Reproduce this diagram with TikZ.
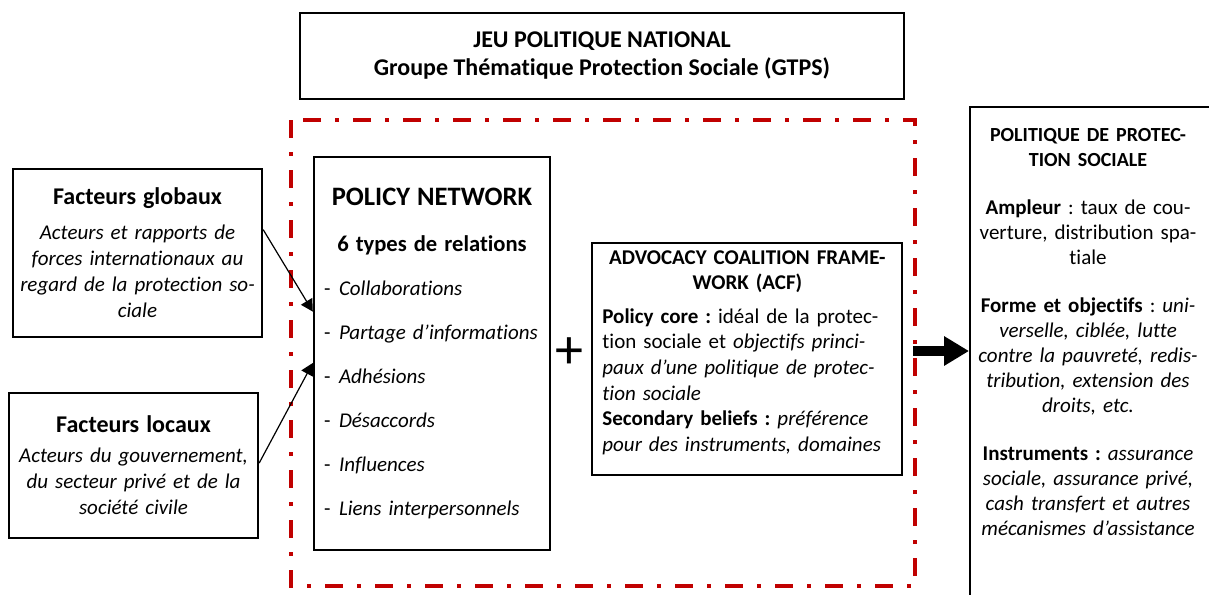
\documentclass[tikz,border=0pt]{standalone}
\usepackage{fontspec}
\setmainfont[Ligatures=NoCommon]{Carlito}
\usetikzlibrary{calc,arrows.meta}
\definecolor{framered}{RGB}{192,0,0}
\frenchspacing

\begin{document}
\begin{tikzpicture}[x = 0.5pt, y = -0.5pt,
	box/.style = {draw, line width=1.2pt, inner sep=0pt},
	txt/.style = {font=\fontsize{10.5}{12.5}\selectfont, inner sep=0pt},
	thin arrow/.style = {line width=0.6pt, -{Triangle[length=6pt, width=6.5pt]}},
	big arrow/.style = {line width=5pt, -{Triangle[length=12.5pt, width=14pt]}},
	frame line/.style = {framered, line width=2pt, dash pattern=on 9pt off 7pt on 2pt off 7pt}]
	\useasboundingbox (0,0) rectangle (1209,594);
	\clip (0,0) rectangle (1209,594);

	% jeu national
	\node[box, txt, font=\fontsize{12}{14}\selectfont\bfseries, minimum width=302pt, minimum height=43pt, align=center] (jeu) at (602,56)
		{JEU POLITIQUE NATIONAL\\ Groupe Thématique Protection Sociale (GTPS)};

	\draw[frame line] (291,120) rectangle (915,586);

	% facteurs
	\node[box, txt, font=\fontsize{10.5}{13}\selectfont, minimum width=124.5pt, minimum height=84pt, text width=120pt, align=center] (glob) at (137.5,253)
		{{\fontsize{12}{14}\selectfont\bfseries Facteurs globaux}\\[4.5pt]
		\itshape Acteurs et rapports de\\ forces internationaux au\\ regard de la protection so-\\ ciale};
	\node[box, txt, font=\fontsize{10.5}{13}\selectfont, minimum width=124.5pt, minimum height=72.5pt, text width=120pt, align=center] (loc) at (133.5,465.5)
		{{\fontsize{12}{14}\selectfont\bfseries Facteurs locaux}\\[2pt]
		\itshape Acteurs du gouvernement,\\ du secteur privé et de la\\ société civile};

	% policy network
	\node[box, txt, minimum width=118pt, minimum height=196.5pt, text width=118pt, align=left] (pn) at (432,353.5)
		{\makebox[118pt]{\fontsize{13.3}{15}\selectfont\bfseries POLICY NETWORK}\\[10.5pt]
		\makebox[118pt]{\fontsize{11.3}{13}\selectfont\bfseries 6 types de relations}\\[9.5pt]
		\makebox[12.5pt][l]{\hspace{5pt}-}\textit{Collaborations}\\[9.5pt]
		\makebox[12.5pt][l]{\hspace{5pt}-}\textit{Partage d’informations}\\[9.5pt]
		\makebox[12.5pt][l]{\hspace{5pt}-}\textit{Adhésions}\\[9.5pt]
		\makebox[12.5pt][l]{\hspace{5pt}-}\textit{Désaccords}\\[9.5pt]
		\makebox[12.5pt][l]{\hspace{5pt}-}\textit{Influences}\\[9.5pt]
		\makebox[12.5pt][l]{\hspace{5pt}-}\textit{Liens interpersonnels}};

	\node[txt, font=\fontsize{28}{28}\selectfont] (plus) at (569,353) {+};

	% ACF
	\node[box, minimum width=155pt, minimum height=116pt] (acf) at (747,359) {};
	\node[txt, font=\fontsize{10.5}{12.8}\selectfont, anchor=north west, text width=145pt, align=left] (acftxt) at (602,250)
		{\makebox[145pt]{\bfseries ADVOCACY COALITION FRAME-}\\
		\makebox[145pt]{\bfseries WORK (ACF)}\\[4pt]
		\textbf{Policy core :} idéal de la protec-\\
		tion sociale et \textit{objectifs princi-}\\
		\textit{paux d’une politique de protec-}\\
		\textit{tion sociale}\\
		\textbf{Secondary beliefs :} \textit{préférence}\\
		\textit{pour des instruments, domaines}};

	% politique
	\node[box, anchor=north west, minimum width=140pt, minimum height=260pt] (pol) at (969,106) {};
	\node[txt, anchor=north, text width=118pt, align=center] (poltxt) at (1088,128)
		{{\fontsize{10}{11.5}\selectfont\bfseries POLITIQUE DE PROTEC-}\\
		{\fontsize{10}{11.5}\selectfont\bfseries TION SOCIALE}\\[11.5pt]
		\textbf{Ampleur} : taux de cou-\\
		verture, distribution spa-\\
		tiale\\[11.5pt]
		\textbf{Forme et objectifs} : \textit{uni-}\\
		\textit{verselle, ciblée, lutte}\\
		\textit{contre la pauvreté, redis-}\\
		\textit{tribution, extension des}\\
		\textit{droits, etc.}\\[11.5pt]
		\textbf{Instruments :} \textit{assurance}\\
		\textit{sociale, assurance privé,}\\
		\textit{cash transfert et autres}\\
		\textit{mécanismes d’assistance}};

	% arrows
	\draw[thin arrow] ($(glob.north east)!0.363!(glob.south east)$) -- ($(pn.north west)!0.394!(pn.south west)$);
	\draw[thin arrow] ($(loc.north east)!0.483!(loc.south east)$) -- ($(pn.north west)!0.524!(pn.south west)$);
	\coordinate (bstart) at ([shift={(10,-8)}]acf.east);
	\draw[big arrow] (bstart) -- (bstart -| pol.west);
\end{tikzpicture}
\end{document}
